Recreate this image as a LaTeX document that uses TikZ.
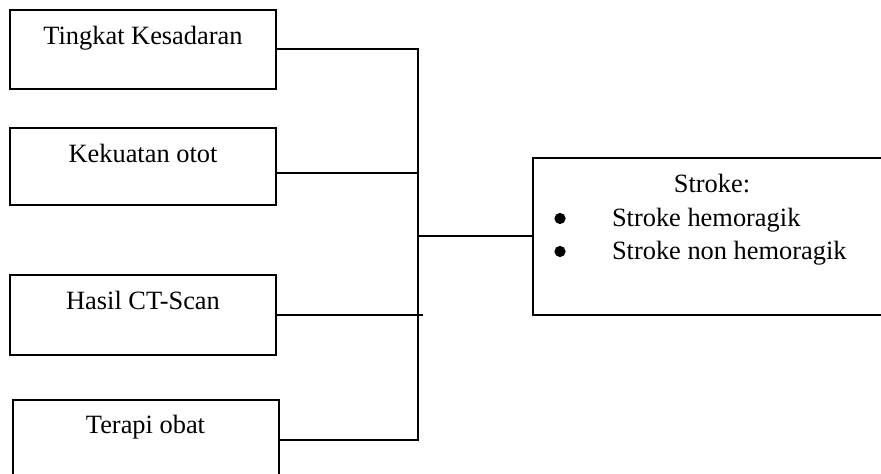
\documentclass[tikz,border=0pt]{standalone}
\usepackage{fontspec}
\setmainfont{Liberation Serif}
\usetikzlibrary{calc}

\begin{document}
\begin{tikzpicture}[x=0.5pt, y=-0.5pt, line width=1pt,
	faktor/.style={draw, inner sep=0pt, minimum width=133pt},
	judul/.style={anchor=base, inner sep=0pt, font=\fontsize{13.2}{16}\selectfont},
	butir/.style={anchor=base west, inner sep=0pt, font=\fontsize{13.2}{16}\selectfont},
	titik/.style={circle, fill, inner sep=0pt, minimum size=5.6pt}]

			\useasboundingbox (0,0) rectangle (881,474);
			\clip (0,0) rectangle (881,474);

			% kotak faktor
			\node[faktor, minimum height=39.5pt] (kesadaran) at (143, 49.5) {};
			\node[faktor, minimum height=38.5pt] (otot) at (143, 166.5) {};
			\node[faktor, minimum height=40pt] (ctscan) at (143, 315) {};
			\node[faktor, minimum height=40pt] (obat) at (145.5, 440) {};
			\node[draw, inner sep=0pt, minimum width=176pt, minimum height=78.5pt] (stroke) at (709, 236.5) {};

			\node[judul] (tKesadaran) at ([yshift=-18pt]kesadaran.north) {Tingkat Kesadaran};
			\node[judul] (tOtot) at ([yshift=-18pt]otot.north) {Kekuatan otot};
			\node[judul] (tCtscan) at ([yshift=-18pt]ctscan.north) {Hasil CT-Scan};
			\node[judul] (tObat) at ([yshift=-17.5pt]obat.north) {Terapi obat};
			\node[judul] (tStroke) at (712, 193) {Stroke:};

			\node[titik] (b1) at (560, 218.5) {};
			\node[titik] (b2) at (560, 251.5) {};
			\node[butir] (hemoragik) at (611, 226.5) {Stroke hemoragik};
			\node[butir] (nonhemoragik) at (611, 259.5) {Stroke non hemoragik};

			% garis penghubung
			\coordinate (atas) at (418, 49.5);
			\coordinate (bawah) at (418, 440);
			\coordinate (ujung) at (423, 315);
			\draw (kesadaran.east) -- (atas) -- (bawah) -- (obat.east);
			\draw ([yshift=-3.25pt]otot.east) -- ([yshift=-3.25pt]otot.east -| atas);
			\draw (ctscan.east) -- (ujung);
			\draw (stroke.west -| atas) -- (stroke.west);
		\end{tikzpicture}
\end{document}
